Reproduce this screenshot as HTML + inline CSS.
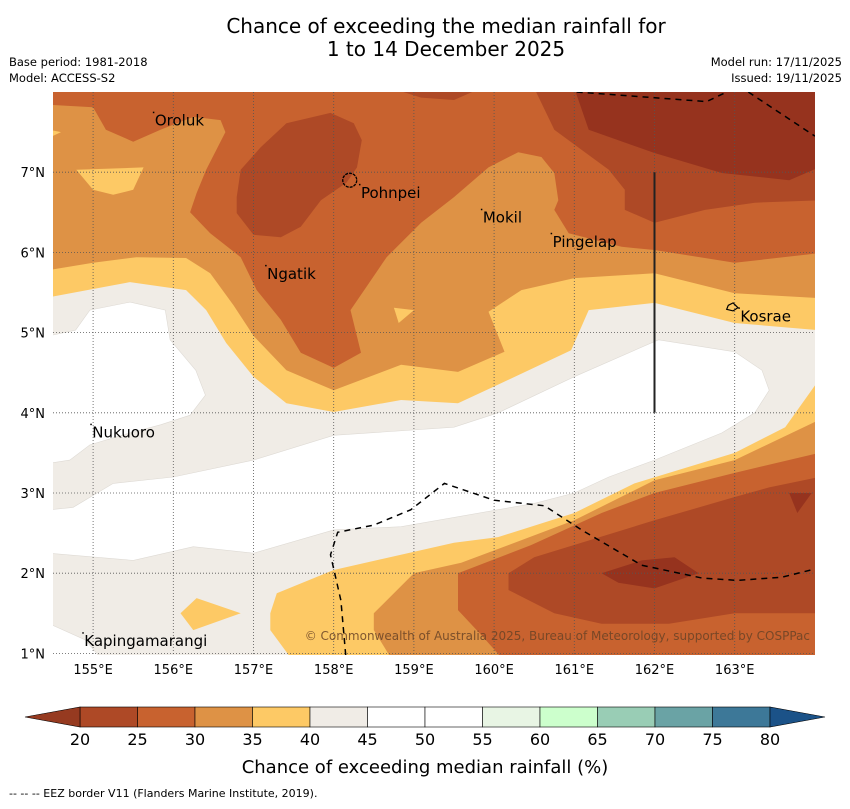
<!DOCTYPE html>
<html><head><meta charset="utf-8">
<style>
html,body{margin:0;padding:0;background:#fff;}
body{width:850px;height:804px;overflow:hidden;font-family:"Liberation Sans","DejaVu Sans",sans-serif;}
svg text{font-family:"DejaVu Sans","Liberation Sans",sans-serif;}
</style></head>
<body>
<svg id="chart" width="850" height="804" viewBox="0 0 850 804" xmlns="http://www.w3.org/2000/svg">
<text x="446" y="33" font-size="20" text-anchor="middle" fill="#000">Chance of exceeding the median rainfall for</text>
<text x="446" y="56" font-size="20" text-anchor="middle" fill="#000">1 to 14 December 2025</text>
<text x="9" y="66" font-size="11.5">Base period: 1981-2018</text>
<text x="9" y="82" font-size="11.5">Model: ACCESS-S2</text>
<text x="842" y="66" font-size="11.5" text-anchor="end">Model run: 17/11/2025</text>
<text x="842" y="82" font-size="11.5" text-anchor="end">Issued: 19/11/2025</text>
<defs><clipPath id="mapclip"><rect x="53" y="92" width="762" height="563"/></clipPath></defs>
<g id="map" clip-path="url(#mapclip)"></g>
<g id="axes"></g>
<g id="cbar"></g>
<text x="425" y="773" font-size="18" text-anchor="middle">Chance of exceeding median rainfall (%)</text>
<text x="9" y="797" font-size="11">--  --  -- EEZ border V11 (Flanders Marine Institute, 2019).</text>
</svg>
<script>
const lonTicks=[155,156,157,158,159,160,161,162,163];
const latTicks=[1,2,3,4,5,6,7];
const cbarTicks=[20,25,30,35,40,45,50,55,60,65,70,75,80];
const cbarColors=["#ae4926","#c8622f","#de9245","#fdc965","#f0ece6","#ffffff","#ffffff","#e8f5e4","#ccffcc","#99cdb5","#6aa3a5","#3d7898"];
const bandGray=[[154.45,8.05],[164.05,8.05],[164.05,0.95],[154.45,0.95]];
const white1=[[154.45,4.96],[154.78,5.03],[154.96,5.28],[155.46,5.38],[155.9,5.28],[155.96,4.91],[156.28,4.53],[156.4,4.22],[156.21,3.97],[155.84,3.85],[155.46,3.75],[154.96,3.6],[154.71,3.41],[154.45,3.37]];
const white2=[[154.45,2.79],[154.75,2.82],[155.25,3.12],[156.0,3.2],[157.0,3.41],[158.0,3.72],[159.5,3.82],[160.05,4.0],[161.0,4.45],[162.05,4.91],[163.0,4.76],[163.34,4.53],[163.43,4.28],[163.25,4.0],[162.84,3.75],[162.0,3.41],[161.43,3.2],[161.0,3.0],[160.5,2.87],[158.84,2.58],[158.0,2.54],[157.0,2.25],[156.25,2.33],[155.5,2.16],[154.45,2.25]];
const white3=[[154.45,1.37],[154.9,1.17],[155.09,0.95],[154.45,0.95]];
const yellow1=[[154.45,8.05],[164.05,8.05],[164.05,5.03],[163.0,5.12],[162.0,5.37],[161.18,5.28],[160.96,4.78],[160.09,4.37],[159.55,4.12],[158.84,4.16],[158.0,4.01],[157.41,4.12],[157.0,4.45],[156.66,4.87],[156.41,5.28],[156.16,5.53],[155.46,5.63],[154.45,5.44]];
const yellow2=[[157.21,1.5],[157.29,1.75],[158.0,2.04],[159.5,2.38],[160.05,2.45],[161.0,2.75],[161.75,3.12],[163.0,3.5],[163.63,3.82],[164.05,4.41],[164.05,0.95],[157.46,0.95],[157.21,1.29]];
const yellow3=[[156.09,1.5],[156.29,1.69],[156.84,1.5],[156.25,1.29]];
const ltorange1=[[154.45,8.05],[164.05,8.05],[164.05,5.43],[163.0,5.49],[162.0,5.74],[161.0,5.68],[160.34,5.53],[159.93,5.26],[160.13,4.76],[159.55,4.51],[158.84,4.6],[158.0,4.28],[157.41,4.53],[157.0,4.96],[156.75,5.34],[156.46,5.74],[156.16,5.93],[155.54,5.94],[155.0,5.87],[154.45,5.78]];
const ltorange2=[[158.5,1.5],[159.0,2.0],[159.59,2.13],[161.0,2.66],[162.0,3.16],[163.0,3.41],[164.05,3.91],[164.05,0.95],[158.71,0.95],[158.5,1.29]];
const yellow4=[[154.79,7.03],[155.63,7.06],[155.5,6.78],[155.25,6.72],[155.0,6.78]];
const yellow5=[[158.75,5.31],[159.0,5.28],[158.81,5.12]];
const yellow6=[[154.45,7.53],[154.6,7.5],[154.45,7.43]];
const orange1=[[154.45,8.05],[164.05,8.05],[164.05,5.99],[163.0,5.87],[162.0,6.03],[161.59,6.07],[160.93,6.24],[160.75,6.53],[160.8,6.65],[160.75,6.99],[160.59,7.19],[160.3,7.25],[159.93,7.06],[159.5,6.69],[159.09,6.37],[158.66,5.94],[158.38,5.53],[158.21,5.28],[158.34,4.75],[158.0,4.56],[157.59,4.75],[157.34,5.16],[157.04,5.53],[156.84,5.94],[156.46,6.24],[156.21,6.5],[156.29,6.74],[156.41,7.03],[156.65,7.5],[156.59,7.65],[156.25,7.69],[155.84,7.53],[155.5,7.38],[155.16,7.53],[155.0,7.81],[154.45,7.84]];
const orange2=[[159.55,2.0],[160.46,2.35],[161.34,2.75],[162.0,3.0],[163.0,3.25],[164.05,3.5],[164.05,0.95],[160.09,0.95],[159.84,1.23],[159.55,1.54]];
const dark1=[[156.84,7.03],[157.09,7.31],[157.41,7.61],[157.96,7.74],[158.25,7.61],[158.35,7.4],[158.29,7.06],[158.16,6.87],[157.84,6.65],[157.59,6.32],[157.34,6.19],[157.0,6.22],[156.79,6.49],[156.79,6.69]];
const dark0=[[158.71,8.05],[159.84,8.05],[159.5,7.9],[159.09,7.93]];
const dark2=[[160.5,8.05],[164.05,8.05],[164.05,6.65],[163.25,6.62],[162.63,6.53],[162.0,6.37],[161.63,6.53],[161.63,6.78],[161.43,7.03],[161.09,7.28],[160.75,7.53]];
const dark4=[[160.18,2.0],[160.5,2.2],[162.0,2.66],[163.0,2.95],[163.43,3.07],[164.05,3.2],[164.05,1.5],[163.0,1.5],[162.18,1.37],[161.34,1.37],[160.75,1.5],[160.18,1.79]];
const darkest1=[[161.0,8.05],[164.05,8.05],[164.05,7.06],[163.68,6.9],[162.84,6.99],[162.0,7.24],[161.18,7.53]];
const darkest2=[[161.34,2.0],[161.84,2.16],[162.25,2.2],[162.55,2.0],[162.0,1.81],[161.55,1.88]];
const darkest3=[[163.68,3.0],[163.96,3.0],[163.78,2.75]];
const eezNorth1=[[161.03,8.0],[162.65,7.88],[162.9,8.0]];
const eezNorth2=[[163.17,8.0],[164.0,7.45]];
const eezSouth=[[158.15,0.98],[158.09,1.66],[157.96,2.23],[158.05,2.51],[158.5,2.6],[158.96,2.79],[159.38,3.12],[160.0,2.91],[160.63,2.84],[161.09,2.54],[161.84,2.1],[162.59,1.94],[163.03,1.91],[163.59,1.95],[164.03,2.06]];
const islandNames=["Oroluk","Pohnpei","Mokil","Pingelap","Ngatik","Kosrae","Nukuoro","Kapingamarangi"];
const islandLon=[155.77,158.34,159.86,160.73,157.17,163.07,154.99,154.89];
const islandLat=[7.58,6.68,6.37,6.07,5.67,5.14,3.69,1.09];

const NS="http://www.w3.org/2000/svg";
const X=lon=>53+(lon-154.5)*80.2;
const Y=lat=>92+(8-lat)*80.2;
const map=document.getElementById('map');
const axes=document.getElementById('axes');
const cbar=document.getElementById('cbar');
function el(tag,attrs,parent){const e=document.createElementNS(NS,tag);for(const k in attrs)e.setAttribute(k,attrs[k]);parent.appendChild(e);return e;}
function pts(a){return a.map(p=>X(p[0]).toFixed(1)+','+Y(p[1]).toFixed(1)).join(' ');}
const layers=[
 ['band-40-45',bandGray,'#f0ece6'],['band-45-55-a',white1,'#ffffff'],['band-45-55-b',white2,'#ffffff'],['band-45-55-c',white3,'#ffffff'],
 ['band-35-40-north',yellow1,'#fdc965'],['band-35-40-south',yellow2,'#fdc965'],['band-35-40-patch',yellow3,'#fdc965'],
 ['band-30-35-north',ltorange1,'#de9245'],['band-30-35-south',ltorange2,'#de9245'],
 ['band-35-40-hole-a',yellow4,'#fdc965'],['band-35-40-hole-b',yellow5,'#fdc965'],['band-35-40-hole-c',yellow6,'#fdc965'],
 ['band-25-30-north',orange1,'#c8622f'],['band-25-30-south',orange2,'#c8622f'],
 ['band-20-25-pohnpei',dark1,'#ae4926'],['band-20-25-top',dark0,'#ae4926'],['band-20-25-east',dark2,'#ae4926'],['band-20-25-south',dark4,'#ae4926'],
 ['band-below-20-north',darkest1,'#96331e'],['band-below-20-south',darkest2,'#96331e'],['band-below-20-east',darkest3,'#96331e']];
layers.forEach(L=>{
 const p=el('polygon',{points:pts(L[1]),fill:L[2],stroke:L[2]==='#ffffff'?'#dedad4':'none','stroke-width':0.6},map);
 
 
});
lonTicks.forEach(v=>{
 const l=el('line',{x1:X(v),x2:X(v),y1:92,y2:655,stroke:'#555','stroke-width':0.8,'stroke-dasharray':'1,2'},map);
 
 
 const t=el('text',{x:X(v),y:674,'font-size':13,'text-anchor':'middle'},axes);t.textContent=v+'°E';
 
 
});
latTicks.forEach(v=>{
 const l=el('line',{x1:53,x2:815,y1:Y(v),y2:Y(v),stroke:'#555','stroke-width':0.8,'stroke-dasharray':'1,2'},map);
 
 
 const t=el('text',{x:45,y:Y(v)+5,'font-size':13,'text-anchor':'end'},axes);t.textContent=v+'°N';
 
 
});
[eezNorth1,eezNorth2,eezSouth].forEach(a=>{
 const p=el('polyline',{points:pts(a),fill:'none',stroke:'#000','stroke-width':1.5,'stroke-dasharray':'6,5'},map);
 
 
});
const vl=el('line',{x1:X(162),x2:X(162),y1:Y(7),y2:Y(4),stroke:'#222','stroke-width':2},map);


const pohn=el('circle',{cx:X(158.2),cy:Y(6.9),r:7,fill:'none',stroke:'#000','stroke-width':1.3,'stroke-dasharray':'3,1'},map);


const kos=el('polygon',{points:pts([[162.98,5.37],[162.92,5.34],[162.9,5.29],[162.98,5.27],[163.04,5.31]]),fill:'none',stroke:'#000','stroke-width':1.2},map);


islandNames.forEach((n,i)=>{
 const t=el('text',{x:X(islandLon[i]),y:Y(islandLat[i]),'font-size':15,fill:'#000'},map);t.textContent=n;
 
 
 const d=el('rect',{x:X(islandLon[i])-2,y:Y(islandLat[i])-14,width:1.5,height:1.5,fill:'#000'},map);
 
 
});
const cp=el('text',{x:810,y:640,'font-size':12,'text-anchor':'end',fill:'#6a4326','fill-opacity':0.85},map);
cp.textContent='© Commonwealth of Australia 2025, Bureau of Meteorology, supported by COSPPac';


const cx0=80,cx1=770,cy=707,ch=20;
const cw=(cx1-cx0)/cbarColors.length;
cbarColors.forEach((c,i)=>{
 const r=el('rect',{x:cx0+i*cw,y:cy,width:cw,height:ch,fill:c,stroke:'#000','stroke-width':0.6},cbar);
 
 
});
const lt=el('polygon',{points:`${cx0},${cy} ${cx0},${cy+ch} 25,${cy+ch/2}`,fill:'#963a20',stroke:'#000','stroke-width':0.6},cbar);


const rt=el('polygon',{points:`${cx1},${cy} ${cx1},${cy+ch} 825,${cy+ch/2}`,fill:'#1b5288',stroke:'#000','stroke-width':0.6},cbar);


cbarTicks.forEach((v,i)=>{
 const t=el('text',{x:cx0+i*cw,y:745,'font-size':16,'text-anchor':'middle'},cbar);t.textContent=v;
 
 
});
</script>
</body></html>
